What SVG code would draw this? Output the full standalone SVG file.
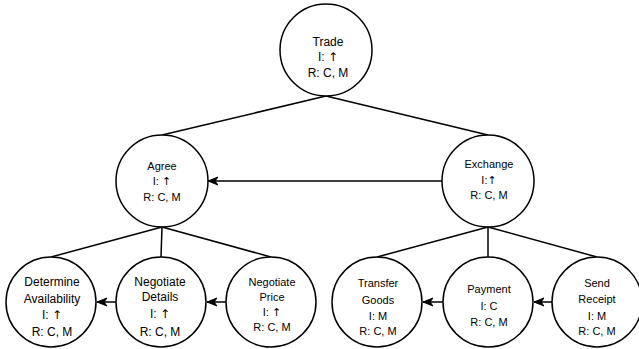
<svg xmlns="http://www.w3.org/2000/svg" width="639" height="349" viewBox="0 0 639 349">
<style>
.n{fill:#fff;stroke:#000;stroke-width:1.5}
.t{font-family:"Liberation Sans",Arial,sans-serif;font-size:11px;fill:#000;text-anchor:middle}
.t12{font-size:12px}
.ar{font-family:"DejaVu Sans",sans-serif}
.c{stroke:#000;stroke-width:1.5;fill:none}
</style>
<defs>
<marker id="ah" markerUnits="userSpaceOnUse" markerWidth="12" markerHeight="10" refX="10" refY="5" orient="auto">
<path d="M0,1 L10,5 L0,9 L3,5 z" fill="#000" stroke="#000" stroke-width="1"/>
</marker>
</defs>
<g id="connectors">
<line class="c" x1="326" y1="96" x2="162" y2="135"/>
<line class="c" x1="326" y1="96" x2="488" y2="135"/>
<line class="c" x1="162" y1="227" x2="51" y2="257"/>
<line class="c" x1="162" y1="227" x2="161" y2="257"/>
<line class="c" x1="162" y1="227" x2="271" y2="257"/>
<line class="c" x1="488" y1="227" x2="377" y2="257"/>
<line class="c" x1="488" y1="227" x2="488" y2="257"/>
<line class="c" x1="488" y1="227" x2="597" y2="257"/>
<line class="c" x1="442" y1="181" x2="208" y2="181" marker-end="url(#ah)"/>
<line class="c" x1="116" y1="302" x2="97" y2="302" marker-end="url(#ah)"/>
<line class="c" x1="226" y1="302" x2="207" y2="302" marker-end="url(#ah)"/>
<line class="c" x1="443" y1="302" x2="423" y2="302" marker-end="url(#ah)"/>
<line class="c" x1="552" y1="302" x2="534" y2="302" marker-end="url(#ah)"/>
</g>
<g id="trade">
<circle class="n" cx="326" cy="50" r="46"/>
<text class="t t12" x="328" y="46">Trade</text>
<text class="t t12" x="328" y="61">I: <tspan class="ar">↑</tspan></text>
<text class="t t12" x="328" y="77">R: C, M</text>
</g>
<g id="agree">
<circle class="n" cx="162" cy="181" r="46"/>
<text class="t" x="162" y="170">Agree</text>
<text class="t" x="162" y="185">I: <tspan class="ar">↑</tspan></text>
<text class="t" x="162" y="201">R: C, M</text>
</g>
<g id="exchange">
<circle class="n" cx="488" cy="181" r="46"/>
<text class="t" x="489" y="168">Exchange</text>
<text class="t" x="489" y="184">I:<tspan class="ar">↑</tspan></text>
<text class="t" x="489" y="199">R: C, M</text>
</g>
<g id="determine">
<circle class="n" cx="51" cy="302" r="45"/>
<text class="t t12" x="52" y="286">Determine</text>
<text class="t t12" x="52" y="303">Availability</text>
<text class="t t12" x="52" y="319">I: <tspan class="ar">↑</tspan></text>
<text class="t t12" x="52" y="336">R: C, M</text>
</g>
<g id="details">
<circle class="n" cx="161" cy="302" r="45"/>
<text class="t t12" x="160" y="286">Negotiate</text>
<text class="t t12" x="160" y="301">Details</text>
<text class="t t12" x="160" y="318">I: <tspan class="ar">↑</tspan></text>
<text class="t t12" x="160" y="336">R: C, M</text>
</g>
<g id="price">
<circle class="n" cx="271" cy="302" r="45"/>
<text class="t" x="272" y="286">Negotiate</text>
<text class="t" x="272" y="301">Price</text>
<text class="t" x="272" y="316">I: <tspan class="ar">↑</tspan></text>
<text class="t" x="272" y="331">R: C, M</text>
</g>
<g id="transfer">
<circle class="n" cx="377" cy="302" r="45"/>
<text class="t" x="378" y="287">Transfer</text>
<text class="t" x="378" y="304">Goods</text>
<text class="t" x="378" y="320">I: M</text>
<text class="t" x="378" y="335">R: C, M</text>
</g>
<g id="payment">
<circle class="n" cx="488" cy="302" r="45"/>
<text class="t" x="489" y="293">Payment</text>
<text class="t" x="489" y="310">I: C</text>
<text class="t" x="489" y="326">R: C, M</text>
</g>
<g id="receipt">
<circle class="n" cx="597" cy="302" r="45"/>
<text class="t" x="597" y="287">Send</text>
<text class="t" x="597" y="303">Receipt</text>
<text class="t" x="597" y="320">I: M</text>
<text class="t" x="597" y="335">R: C, M</text>
</g>
</svg>
